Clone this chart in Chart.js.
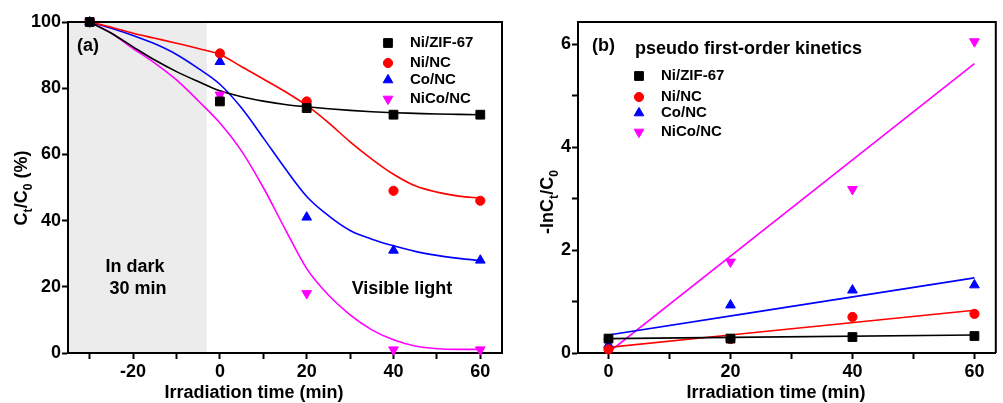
<!DOCTYPE html>
<html>
<head>
<meta charset="utf-8">
<script src="https://cdn.jsdelivr.net/npm/chart.js@4.4.1/dist/chart.umd.min.js"></script>
<style>
  body { margin: 0; background: #fff; width: 1003px; height: 403px; overflow: hidden; position: relative; }
  #wrapA { position: absolute; left: 0; top: 0; width: 515px; height: 403px; }
  #wrapB { position: absolute; left: 515px; top: 0; width: 488px; height: 403px; }
</style>
</head>
<body>
<div id="wrapA"><canvas id="chartA"></canvas></div>
<div id="wrapB"><canvas id="chartB"></canvas></div>
<script>
// ---- (a) degradation curves ----
const seriesNames = ["Ni/ZIF-67", "Ni/NC", "Co/NC", "NiCo/NC"];
const seriesColors = ["#000000", "#ff0000", "#0000ff", "#ff00ff"];

const timesA = [-30, 0, 20, 40, 60];
const zifA = [100, 76, 74, 72, 72];
const niA = [100, 90.5, 76, 49, 46];
const coA = [100, 88, 41, 31, 28];
const nicoA = [100, 78, 18, 1, 1];

const fitTimesA = [-30, -25, -20, -15, -10, -5, 0, 5, 10, 15, 20, 25, 30, 35, 40, 45, 50, 55, 60];
const zifFitA = [100, 96.6, 92.5, 88.5, 85, 82, 79.2, 77.4, 76.1, 75.1, 74.4, 73.8, 73.3, 72.9, 72.6, 72.4, 72.2, 72.1, 72];
const niFitA = [100, 98.4, 96.6, 95.1, 93.6, 92, 90.2, 86.5, 82.8, 79, 74.8, 69.6, 63.8, 58.6, 54, 50.5, 48.6, 47.4, 46.8];
const coFitA = [100, 98.1, 95.9, 93.4, 90.2, 86, 81.2, 74, 65, 55.8, 47.3, 41.5, 37, 34.4, 32.4, 30.7, 29.5, 28.6, 27.9];
const nicoFitA = [100, 96.6, 92, 87.6, 82.5, 76.2, 69.5, 61, 50, 37.5, 25.5, 17.5, 11.5, 7, 4, 2.1, 1.3, 1.1, 1.1];

const xTicksA = [-30, -20, -10, 0, 10, 20, 30, 40, 50, 60];
const yTicksA = [0, 20, 40, 60, 80, 100];

// ---- (b) pseudo first-order kinetics ----
const timesB = [0, 20, 40, 60];
const zifB = [0.28, 0.28, 0.31, 0.33];
const niB = [0.07, 0.27, 0.70, 0.76];
const coB = [0.16, 0.93, 1.22, 1.32];
const nicoB = [0.22, 1.77, 3.18, 6.05];

const fitTimesB = [0, 60];
const zifFitB = [0.28, 0.35];
const niFitB = [0.11, 0.83];
const coFitB = [0.35, 1.46];
const nicoFitB = [0.01, 5.62];

const xTicksB = [0, 10, 20, 30, 40, 50, 60];
const yTicksB = [0, 1, 2, 3, 4, 5, 6];

const FONT = "'Liberation Sans', Arial, Helvetica, sans-serif";
const markers = [
  { pointStyle: "rect", radius: 6.2, rotation: 0 },
  { pointStyle: "circle", radius: 4.6, rotation: 0 },
  { pointStyle: "triangle", radius: 5.6, rotation: 0 },
  { pointStyle: "triangle", radius: 5.6, rotation: 180 }
];

function toXY(xs, ys) {
  return xs.map((x, i) => ({ x: x, y: ys[i] }));
}

function buildDatasets(times, values, fitTimes, fits) {
  const pts = values.map((v, i) => ({
    label: seriesNames[i],
    data: toXY(times, v),
    showLine: false,
    pointStyle: markers[i].pointStyle,
    rotation: markers[i].rotation,
    pointRadius: markers[i].radius,
    pointBorderWidth: 1,
    pointBackgroundColor: seriesColors[i],
    pointBorderColor: seriesColors[i],
    clip: false
  }));
  const lines = fits.map((v, i) => ({
    label: seriesNames[i] + " fit",
    data: toXY(fitTimes, v),
    showLine: true,
    pointRadius: 0,
    borderColor: seriesColors[i],
    borderWidth: 1.6,
    cubicInterpolationMode: "monotone",
    fill: false
  }));
  return pts.concat(lines);
}

function drawRich(ctx, parts, cx, cy, size, angle) {
  ctx.save();
  ctx.translate(cx, cy);
  ctx.rotate(angle);
  ctx.fillStyle = "#000";
  ctx.textBaseline = "alphabetic";
  let w = 0;
  parts.forEach(p => {
    ctx.font = "bold " + (p.sub ? size * 0.68 : size) + "px " + FONT;
    w += ctx.measureText(p.t).width;
  });
  let x = -w / 2;
  const base = size * 0.36;
  parts.forEach(p => {
    ctx.font = "bold " + (p.sub ? size * 0.68 : size) + "px " + FONT;
    ctx.fillText(p.t, x, p.sub ? base + size * 0.24 : base);
    x += ctx.measureText(p.t).width;
  });
  ctx.restore();
}

function drawText(ctx, text, x, y, size, align) {
  ctx.save();
  ctx.font = "bold " + size + "px " + FONT;
  ctx.fillStyle = "#000";
  ctx.textAlign = align || "left";
  ctx.textBaseline = "middle";
  ctx.fillText(text, x, y);
  ctx.restore();
}

function drawLegend(ctx, markX, textX, rows) {
  rows.forEach((y, i) => {
    ctx.save();
    ctx.fillStyle = seriesColors[i];
    ctx.strokeStyle = seriesColors[i];
    ctx.lineWidth = 1;
    Chart.helpers.drawPoint(ctx, {
      pointStyle: markers[i].pointStyle,
      rotation: markers[i].rotation,
      radius: markers[i].radius,
      borderWidth: 1
    }, markX, y);
    ctx.restore();
    drawText(ctx, seriesNames[i], textX, y, 15, "left");
  });
}

function boxPlugin() {
  return {
    id: "box",
    afterDatasetsDraw(chart) {
      const a = chart.chartArea, ctx = chart.ctx;
      ctx.save();
      ctx.strokeStyle = "#000";
      ctx.lineWidth = 2;
      ctx.beginPath();
      ctx.moveTo(a.left, a.top);
      ctx.lineTo(a.right, a.top);
      ctx.lineTo(a.right, a.bottom);
      ctx.stroke();
      ctx.restore();
    }
  };
}

function axis(min, max, tickValues, labelEvery, fitSize, isX) {
  return {
    type: "linear",
    min: min,
    max: max,
    afterBuildTicks(scale) {
      scale.ticks = tickValues.map(v => ({ value: v }));
    },
    afterFit(scale) {
      if (isX) scale.height = fitSize; else scale.width = fitSize;
    },
    border: { display: true, color: "#000", width: 2 },
    grid: { drawOnChartArea: false, drawTicks: true, tickLength: 6, tickWidth: 2, tickColor: "#000" },
    ticks: {
      autoSkip: false,
      maxRotation: 0,
      padding: isX ? 2 : 1,
      color: "#000",
      font: { family: FONT, size: 18, weight: "bold" },
      callback: v => (Math.abs(v % labelEvery) < 1e-9 ? String(v) : "")
    },
    title: { display: false }
  };
}

const baseOptions = {
  responsive: true,
  maintainAspectRatio: false,
  animation: false,
  events: [],
  plugins: { legend: { display: false }, tooltip: { enabled: false } }
};

// panel (a)
new Chart(document.getElementById("chartA"), {
  type: "scatter",
  data: { datasets: buildDatasets(timesA, [zifA, niA, coA, nicoA], fitTimesA, [zifFitA, niFitA, coFitA, nicoFitA]) },
  options: Object.assign({}, baseOptions, {
    layout: { padding: { top: 22, right: 13, left: 0, bottom: 0 } },
    scales: {
      x: axis(-35, 65, xTicksA, 20, 50, true),
      y: axis(0, 100, yTicksA, 20, 68, false)
    }
  }),
  plugins: [boxPlugin(), {
    id: "darkZone",
    beforeDraw(chart) {
      const a = chart.chartArea, ctx = chart.ctx, x = chart.scales.x;
      ctx.save();
      ctx.fillStyle = "#ececec";
      ctx.fillRect(a.left, a.top, x.getPixelForValue(-3) - a.left, a.bottom - a.top);
      ctx.restore();
    },
    afterDraw(chart) {
      const ctx = chart.ctx;
      drawText(ctx, "(a)", 77, 46, 18, "left");
      drawText(ctx, "In dark", 135, 267, 18, "center");
      drawText(ctx, "30 min", 138, 289, 18, "center");
      drawText(ctx, "Visible light", 402, 289, 18, "center");
      drawText(ctx, "Irradiation time (min)", 254, 393, 18, "center");
      drawRich(ctx, [{ t: "C" }, { t: "t", sub: true }, { t: "/C" }, { t: "0", sub: true }, { t: " (%)" }], 21, 188, 18, -Math.PI / 2);
      drawLegend(ctx, 388, 410, [43, 63, 80, 99]);
    }
  }]
});

// panel (b)
new Chart(document.getElementById("chartB"), {
  type: "scatter",
  data: { datasets: buildDatasets(timesB, [zifB, niB, coB, nicoB], fitTimesB, [zifFitB, niFitB, coFitB, nicoFitB]) },
  options: Object.assign({}, baseOptions, {
    layout: { padding: { top: 22, right: 1, left: 0, bottom: 0 } },
    scales: {
      x: axis(-5, 63.5, xTicksB, 20, 50, true),
      y: axis(0, 6.43, yTicksB, 2, 63, false)
    }
  }),
  plugins: [boxPlugin(), {
    id: "kineticsText",
    afterDraw(chart) {
      const ctx = chart.ctx;
      drawText(ctx, "(b)", 77, 46, 18, "left");
      drawText(ctx, "pseudo first-order kinetics", 120, 49, 18, "left");
      drawText(ctx, "Irradiation time (min)", 261, 393, 18, "center");
      drawRich(ctx, [{ t: "-lnC" }, { t: "t", sub: true }, { t: "/C" }, { t: "0", sub: true }], 32, 202, 18, -Math.PI / 2);
      drawLegend(ctx, 124, 146, [76, 97, 113, 132]);
    }
  }]
});
</script>
</body>
</html>
